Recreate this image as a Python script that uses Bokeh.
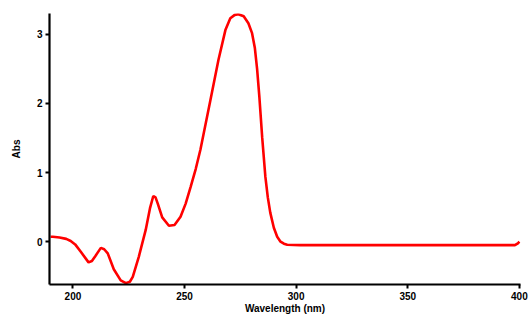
from bokeh.plotting import figure
from bokeh.models import Range1d, FixedTicker
from bokeh.embed import file_html
from bokeh.resources import INLINE

wavelength = [190, 191, 194, 197, 199, 201, 203.6, 207, 208.5, 210, 212.5, 214, 215.6, 218.3, 221.4, 223.7,
              225.5, 226.8, 229.5, 232.6, 234.5, 236, 237, 238, 240, 243, 245.5, 248.2, 250.5, 252.7,
              255, 257.1, 261.6, 265.2, 268.3, 270.5, 272.5, 274.1, 276.5, 278.6, 280.2, 281.5, 282.5,
              283.5, 284.8, 286.2, 287.3, 288.4, 290, 291.5, 293, 294.5, 296, 301.8, 320, 340, 360, 380,
              398, 399.5, 400]
absorbance = [0.07, 0.07, 0.06, 0.04, 0.01, -0.04, -0.15, -0.30, -0.28, -0.21, -0.09, -0.11, -0.17, -0.40, -0.56, -0.60,
              -0.58, -0.51, -0.22, 0.17, 0.48, 0.66, 0.64, 0.55, 0.35, 0.23, 0.24, 0.36, 0.55, 0.79,
              1.05, 1.33, 2.05, 2.63, 3.06, 3.23, 3.28, 3.29, 3.26, 3.16, 3.02, 2.80, 2.50,
              2.10, 1.50, 0.94, 0.64, 0.42, 0.20, 0.07, 0.00, -0.03, -0.045, -0.05, -0.05, -0.05, -0.05, -0.05,
              -0.05, -0.02, 0.0]

x_ticks = [200, 250, 300, 350, 400]
y_ticks = [0, 1, 2, 3]

p = figure(width=531, height=326, output_backend="svg", toolbar_location=None,
           x_range=Range1d(189.5, 400.5), y_range=Range1d(-0.62, 3.3),
           min_border_left=49, min_border_right=11, min_border_top=13, min_border_bottom=42)
p.outline_line_color = None
p.xgrid.grid_line_color = None
p.ygrid.grid_line_color = None

p.line(wavelength, absorbance, line_color="#ff0000", line_width=2.6)

for ax in (p.xaxis[0], p.yaxis[0]):
    ax.axis_line_width = 2.2
    ax.axis_line_color = "black"
    ax.major_tick_line_width = 2
    ax.major_tick_out = 4
    ax.major_tick_in = 0
    ax.minor_tick_line_color = None
    ax.major_label_text_font = "Liberation Sans"
    ax.major_label_text_font_style = "bold"
    ax.major_label_text_font_size = "10px"
    ax.major_label_text_color = "black"
    ax.axis_label_text_font = "Liberation Sans"
    ax.axis_label_text_font_style = "bold"
    ax.axis_label_text_font_size = "10px"
    ax.axis_label_text_color = "black"

p.xaxis.ticker = FixedTicker(ticks=x_ticks)
p.yaxis.ticker = FixedTicker(ticks=y_ticks)
p.xaxis.axis_label = "Wavelength (nm)"
p.yaxis.axis_label = "Abs"
p.xaxis.major_label_standoff = 3
p.xaxis.axis_label_standoff = 0
p.yaxis.major_label_standoff = 3
p.yaxis.axis_label_standoff = 12

open("out.html", "w").write(file_html(p, INLINE))
